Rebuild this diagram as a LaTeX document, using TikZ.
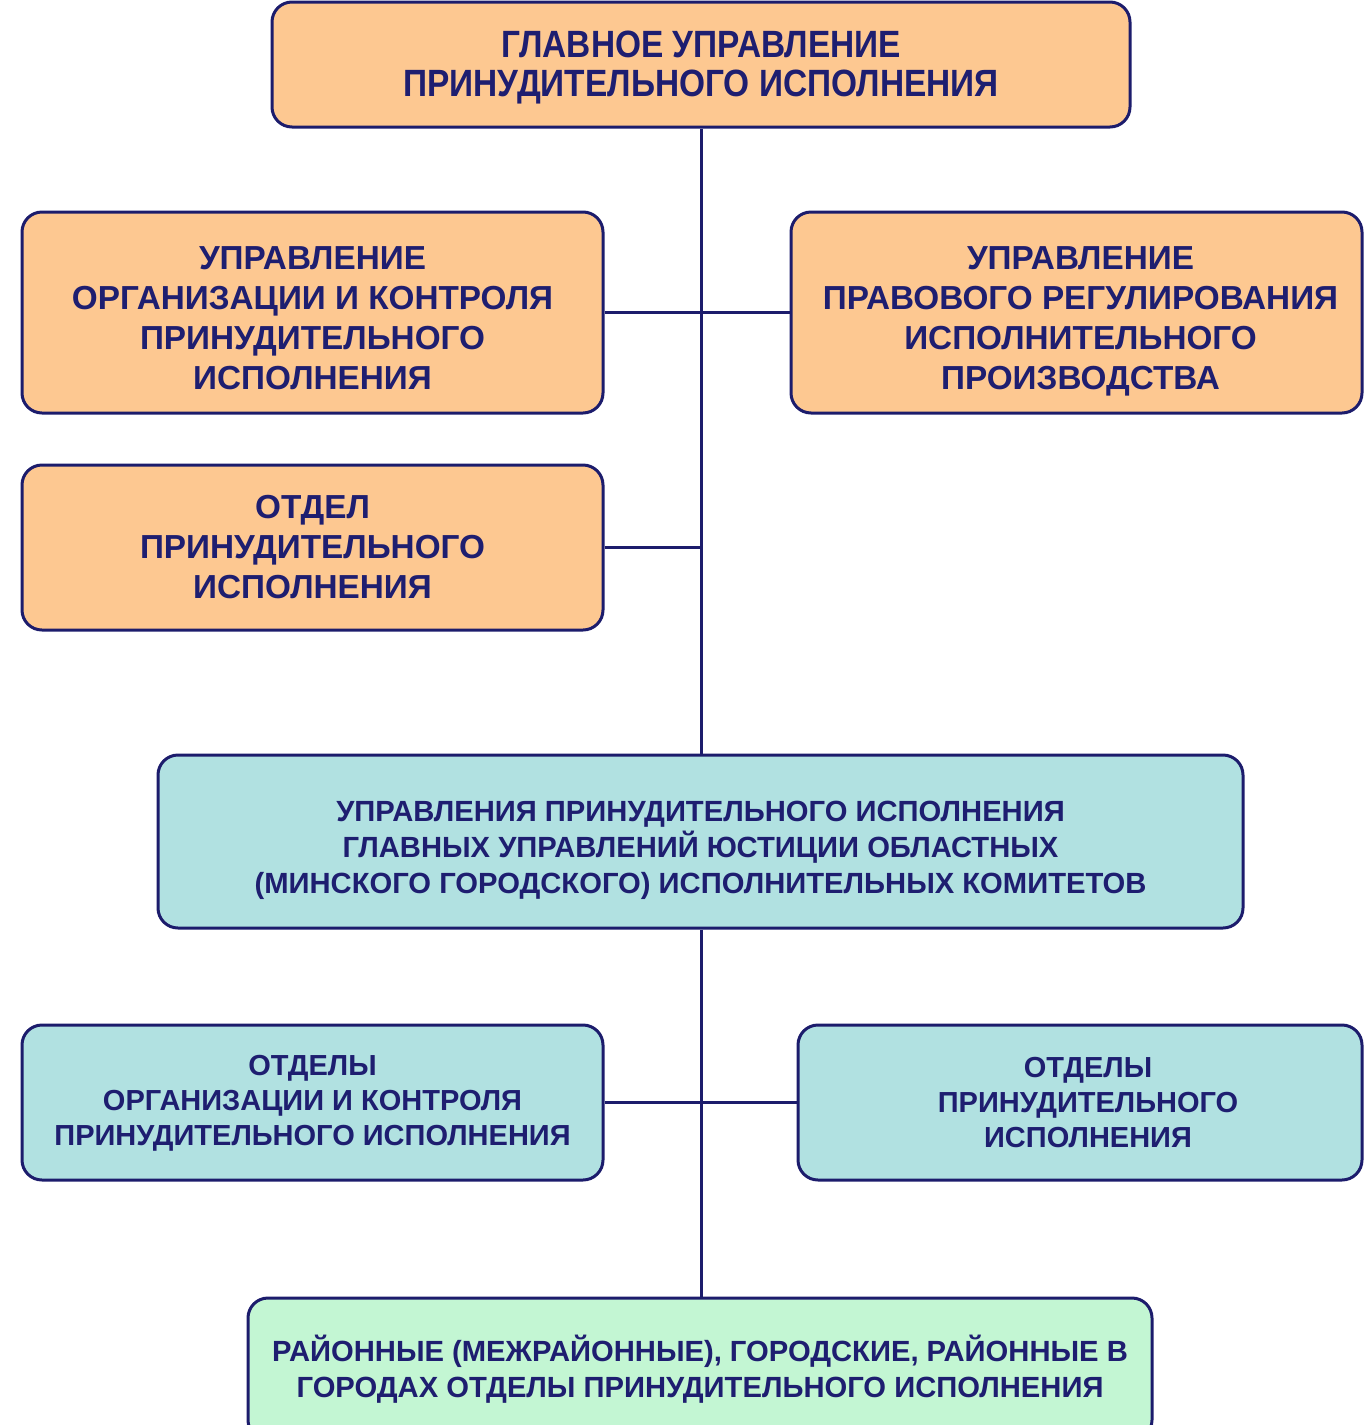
\documentclass[tikz,border=0pt]{standalone}
\usepackage{fontspec}
\setmainfont{Liberation Sans}
\newfontfamily\narrowsans[FakeStretch=0.88]{Liberation Sans}
\definecolor{navy}{HTML}{1C1C6C}
\definecolor{txt}{HTML}{1E1E70}
\definecolor{orng}{HTML}{FDC891}
\definecolor{cyn}{HTML}{B1E1E1}
\definecolor{grn}{HTML}{C3F6D3}
\begin{document}
\begin{tikzpicture}[x=1pt,y=-1pt,
  box/.style={draw=navy,line width=3pt,rounded corners=20pt,inner sep=0pt},
  lbl/.style={align=center,text=txt,inner sep=0pt},
  conn/.style={draw=navy,line width=3pt},
  f1/.style={font=\narrowsans\fontsize{38}{39}\selectfont\bfseries},
  f2/.style={font=\fontsize{33.3}{40}\selectfont\bfseries},
  f3/.style={font=\fontsize{29.2}{36}\selectfont\bfseries},
  f4/.style={font=\fontsize{29}{35}\selectfont\bfseries}]
\useasboundingbox (0,0) rectangle (1364,1425);
\node[box,fill=orng,minimum width=858,minimum height=125,
  label={[lbl,f1,yshift=-3.5]center:{ГЛАВНОЕ УПРАВЛЕНИЕ\\ПРИНУДИТЕЛЬНОГО ИСПОЛНЕНИЯ}}] (top) at (701,64.5) {};
\node[box,fill=orng,minimum width=581,minimum height=201,
  label={[lbl,f2,yshift=-6]center:{УПРАВЛЕНИЕ\\ОРГАНИЗАЦИИ И КОНТРОЛЯ\\ПРИНУДИТЕЛЬНОГО\\ИСПОЛНЕНИЯ}}] (l1) at (312.5,312.5) {};
\node[box,fill=orng,minimum width=571,minimum height=201,
  label={[lbl,f2,yshift=-9,xshift=4]center:{УПРАВЛЕНИЕ\\ПРАВОВОГО РЕГУЛИРОВАНИЯ\\ИСПОЛНИТЕЛЬНОГО\\ПРОИЗВОДСТВА}}] (r1) at (1076.5,312.5) {};
\node[box,fill=orng,minimum width=581,minimum height=165,
  label={[lbl,f2]center:{ОТДЕЛ\\ПРИНУДИТЕЛЬНОГО\\ИСПОЛНЕНИЯ}}] (l2) at (312.5,547.5) {};
\node[box,fill=cyn,minimum width=1085,minimum height=173,
  label={[lbl,f3,yshift=-9]center:{УПРАВЛЕНИЯ ПРИНУДИТЕЛЬНОГО ИСПОЛНЕНИЯ\\ГЛАВНЫХ УПРАВЛЕНИЙ ЮСТИЦИИ ОБЛАСТНЫХ\\(МИНСКОГО ГОРОДСКОГО) ИСПОЛНИТЕЛЬНЫХ КОМИТЕТОВ}}] (mid) at (700.5,841.5) {};
\node[box,fill=cyn,minimum width=581,minimum height=155,
  label={[lbl,f4,yshift=-1]center:{ОТДЕЛЫ\\ОРГАНИЗАЦИИ И КОНТРОЛЯ\\ПРИНУДИТЕЛЬНОГО ИСПОЛНЕНИЯ}}] (l3) at (312.5,1102.5) {};
\node[box,fill=cyn,minimum width=564,minimum height=155,
  label={[lbl,f4,xshift=8]center:{ОТДЕЛЫ\\ПРИНУДИТЕЛЬНОГО\\ИСПОЛНЕНИЯ}}] (r3) at (1080,1102.5) {};
\node[box,fill=grn,minimum width=904,minimum height=142,
  label={[lbl,f3]center:{РАЙОННЫЕ (МЕЖРАЙОННЫЕ), ГОРОДСКИЕ, РАЙОННЫЕ В\\ГОРОДАХ ОТДЕЛЫ ПРИНУДИТЕЛЬНОГО ИСПОЛНЕНИЯ}}] (bot) at (700,1369) {};
\coordinate (j2) at (top.south |- l2.east);
\draw[conn] (top.south) -- (top.south |- mid.north);
\draw[conn] (top.south |- mid.south) -- (top.south |- bot.north);
\draw[conn] (l1.east) -- (r1.west);
\draw[conn] (l2.east) -- (j2);
\draw[conn] (l3.east) -- (r3.west);
\end{tikzpicture}
\end{document}
